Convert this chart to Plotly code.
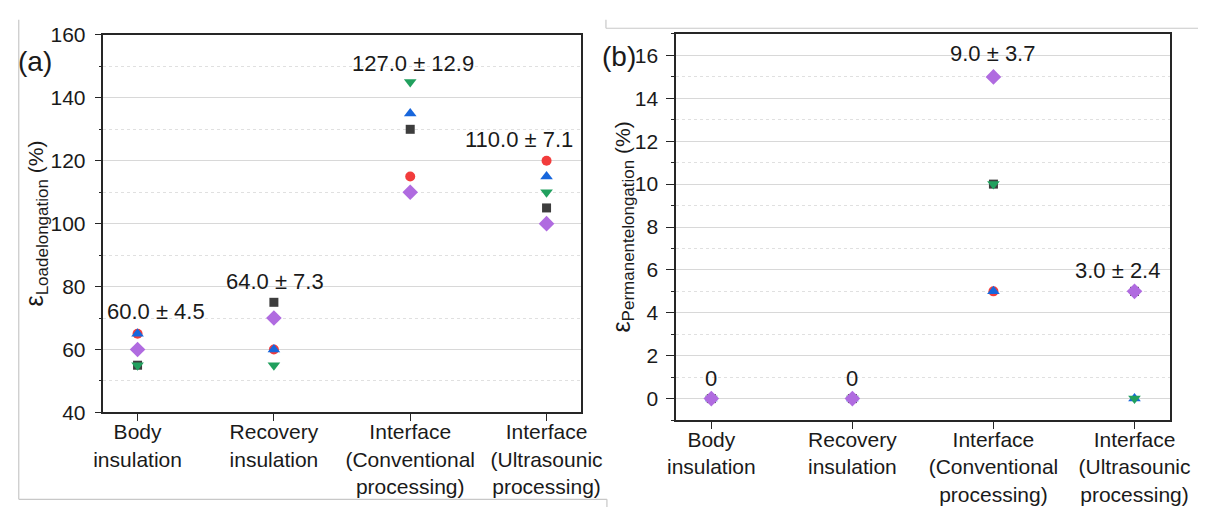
import plotly.graph_objects as go

W, H = 1220, 518

# ---------------- data ----------------
categories = ["Body<br>insulation", "Recovery<br>insulation",
              "Interface<br>(Conventional<br>processing)",
              "Interface<br>(Ultrasounic<br>processing)"]
cat_idx = [0, 1, 2, 3]

# (a) load elongation, one list per specimen marker
load_square = [55, 75, 130, 105]
load_circle = [65, 60, 115, 120]
load_up = [65, 60, 135, 115]
load_down = [55, 55, 145, 110]
load_diamond = [60, 70, 110, 100]
load_labels = ["60.0 ± 4.5", "64.0 ± 7.3", "127.0 ± 12.9", "110.0 ± 7.1"]

# (b) permanent elongation
perm_square = [0, 0, 10, 5]
perm_circle = [0, 0, 5, 5]
perm_up = [0, 0, 5, 0]
perm_down = [0, 0, 10, 0]
perm_diamond = [0, 0, 15, 5]
perm_labels = ["0", "0", "9.0 ± 3.7", "3.0 ± 2.4"]

# ---------------- styles ----------------
FONT = "Liberation Sans, Arial, sans-serif"
TXT = "#1a1a1a"
markers = [
    ("square", "#3d3d3d", 9),
    ("circle", "#f23c3c", 10),
    ("triangle-up", "#1766dc", 11),
    ("triangle-down", "#21a05e", 11),
    ("diamond", "#b06be0", 12),
]
load_series = [load_square, load_circle, load_up, load_down, load_diamond]
perm_series = [perm_square, perm_circle, perm_up, perm_down, perm_diamond]


def px(x):
    return x / W


def py(y):
    return 1 - y / H


fig = go.Figure()
for (sym, col, sz), ys in zip(markers, load_series):
    fig.add_trace(go.Scatter(x=cat_idx, y=ys, mode="markers", xaxis="x", yaxis="y",
                             marker=dict(symbol=sym, color=col, size=sz, line=dict(width=0)),
                             showlegend=False, cliponaxis=False))
for (sym, col, sz), ys in zip(markers, perm_series):
    fig.add_trace(go.Scatter(x=cat_idx, y=ys, mode="markers", xaxis="x2", yaxis="y2",
                             marker=dict(symbol=sym, color=col, size=sz, line=dict(width=0)),
                             showlegend=False, cliponaxis=False))

axis_common = dict(showline=True, linecolor="#262626", linewidth=1.5, mirror=True,
                   ticks="outside", tickcolor="#262626", tickwidth=1.2,
                   tickfont=dict(family=FONT, size=21, color=TXT), zeroline=False)

xcommon = dict(axis_common, range=[-0.25, 3.25], tickvals=cat_idx, ticktext=categories,
               ticklen=7, ticklabelstandoff=-7, showgrid=False)

minor_l = dict(dtick=10, tick0=0, ticks="outside", ticklen=3, tickcolor="#262626",
               showgrid=True, gridcolor="#e0e0e0", griddash="dot", gridwidth=1)
minor_r = dict(minor_l, dtick=1)

fig.update_layout(
    width=W, height=H, margin=dict(l=0, r=0, t=0, b=0),
    paper_bgcolor="white", plot_bgcolor="white",
    font=dict(family=FONT, color=TXT),
    xaxis=dict(xcommon, domain=[px(96), px(586)], anchor="y"),
    yaxis=dict(axis_common, domain=[py(419), py(24)], anchor="x", range=[40, 160],
               tickvals=[40, 60, 80, 100, 120, 140, 160], ticklen=7, ticklabelstandoff=5,
               showgrid=True, gridcolor="#d8d8d8", gridwidth=1.3, minor=minor_l),
    xaxis2=dict(xcommon, domain=[px(684), px(1191)], anchor="y2"),
    yaxis2=dict(axis_common, domain=[py(427), py(23)], anchor="x2", range=[-1, 17],
                tickvals=[0, 2, 4, 6, 8, 10, 12, 14, 16], ticklen=8, ticklabelstandoff=4,
                showgrid=True, gridcolor="#d8d8d8", gridwidth=1.3, minor=minor_r),
)

ann = []
# mean ± sd labels, panel (a)
load_label_pos = [(0.136, 72.1), (1.007, 81.5), (2.02, 150.9), (2.8, 126.7)]
for txt, (lx, ly) in zip(load_labels, load_label_pos):
    ann.append(dict(x=lx, y=ly, xref="x", yref="y", text=txt, showarrow=False,
                    font=dict(family=FONT, size=22, color=TXT)))
perm_label_pos = [(0.0, 0.92), (1.0, 0.92), (1.99, 16.07), (2.88, 5.95)]
for txt, (lx, ly) in zip(perm_labels, perm_label_pos):
    ann.append(dict(x=lx, y=ly, xref="x2", yref="y2", text=txt, showarrow=False,
                    font=dict(family=FONT, size=22, color=TXT)))

# axis titles
ann.append(dict(x=px(26), y=py(221), xref="paper", yref="paper", textangle=-90,
                showarrow=False, xanchor="center", yanchor="middle",
                text="<span style='font-size:25px'>ε</span><sub><span style='font-size:17px'>Loadelongation</span></sub> (%)",
                font=dict(family=FONT, size=21, color=TXT)))
ann.append(dict(x=px(628), y=py(225), xref="paper", yref="paper", textangle=-90,
                showarrow=False, xanchor="center", yanchor="middle",
                text="<span style='font-size:25px'>ε</span><sub><span style='font-size:17px'>Permanentelongation</span></sub> (%)",
                font=dict(family=FONT, size=21, color=TXT)))
# panel labels
ann.append(dict(x=px(26), y=py(52), xref="paper", yref="paper", text="(a)", showarrow=False,
                xanchor="center", yanchor="middle", font=dict(family=FONT, size=28, color=TXT)))
ann.append(dict(x=px(625), y=py(47), xref="paper", yref="paper", text="(b)", showarrow=False,
                xanchor="center", yanchor="middle", font=dict(family=FONT, size=28, color=TXT)))
fig.update_layout(annotations=ann)

# faint screenshot frame lines
frame = dict(type="line", xref="paper", yref="paper", line=dict(color="#c8c8c8", width=1.2))
shapes = [
    dict(frame, x0=px(9), x1=px(9), y0=py(8), y1=py(510)),
    dict(frame, x0=px(9), x1=px(613), y0=py(510), y1=py(510)),
    dict(frame, x0=px(613), x1=px(613), y0=py(510), y1=py(518)),
    dict(frame, x0=px(612), x1=px(1220), y0=py(17), y1=py(17)),
    dict(frame, x0=px(612), x1=px(612), y0=py(8), y1=py(17)),
]
fig.update_layout(shapes=shapes)

fig.write_html("out.html",
               post_script="document.body.style.margin='0';document.body.style.overflow='hidden';")
